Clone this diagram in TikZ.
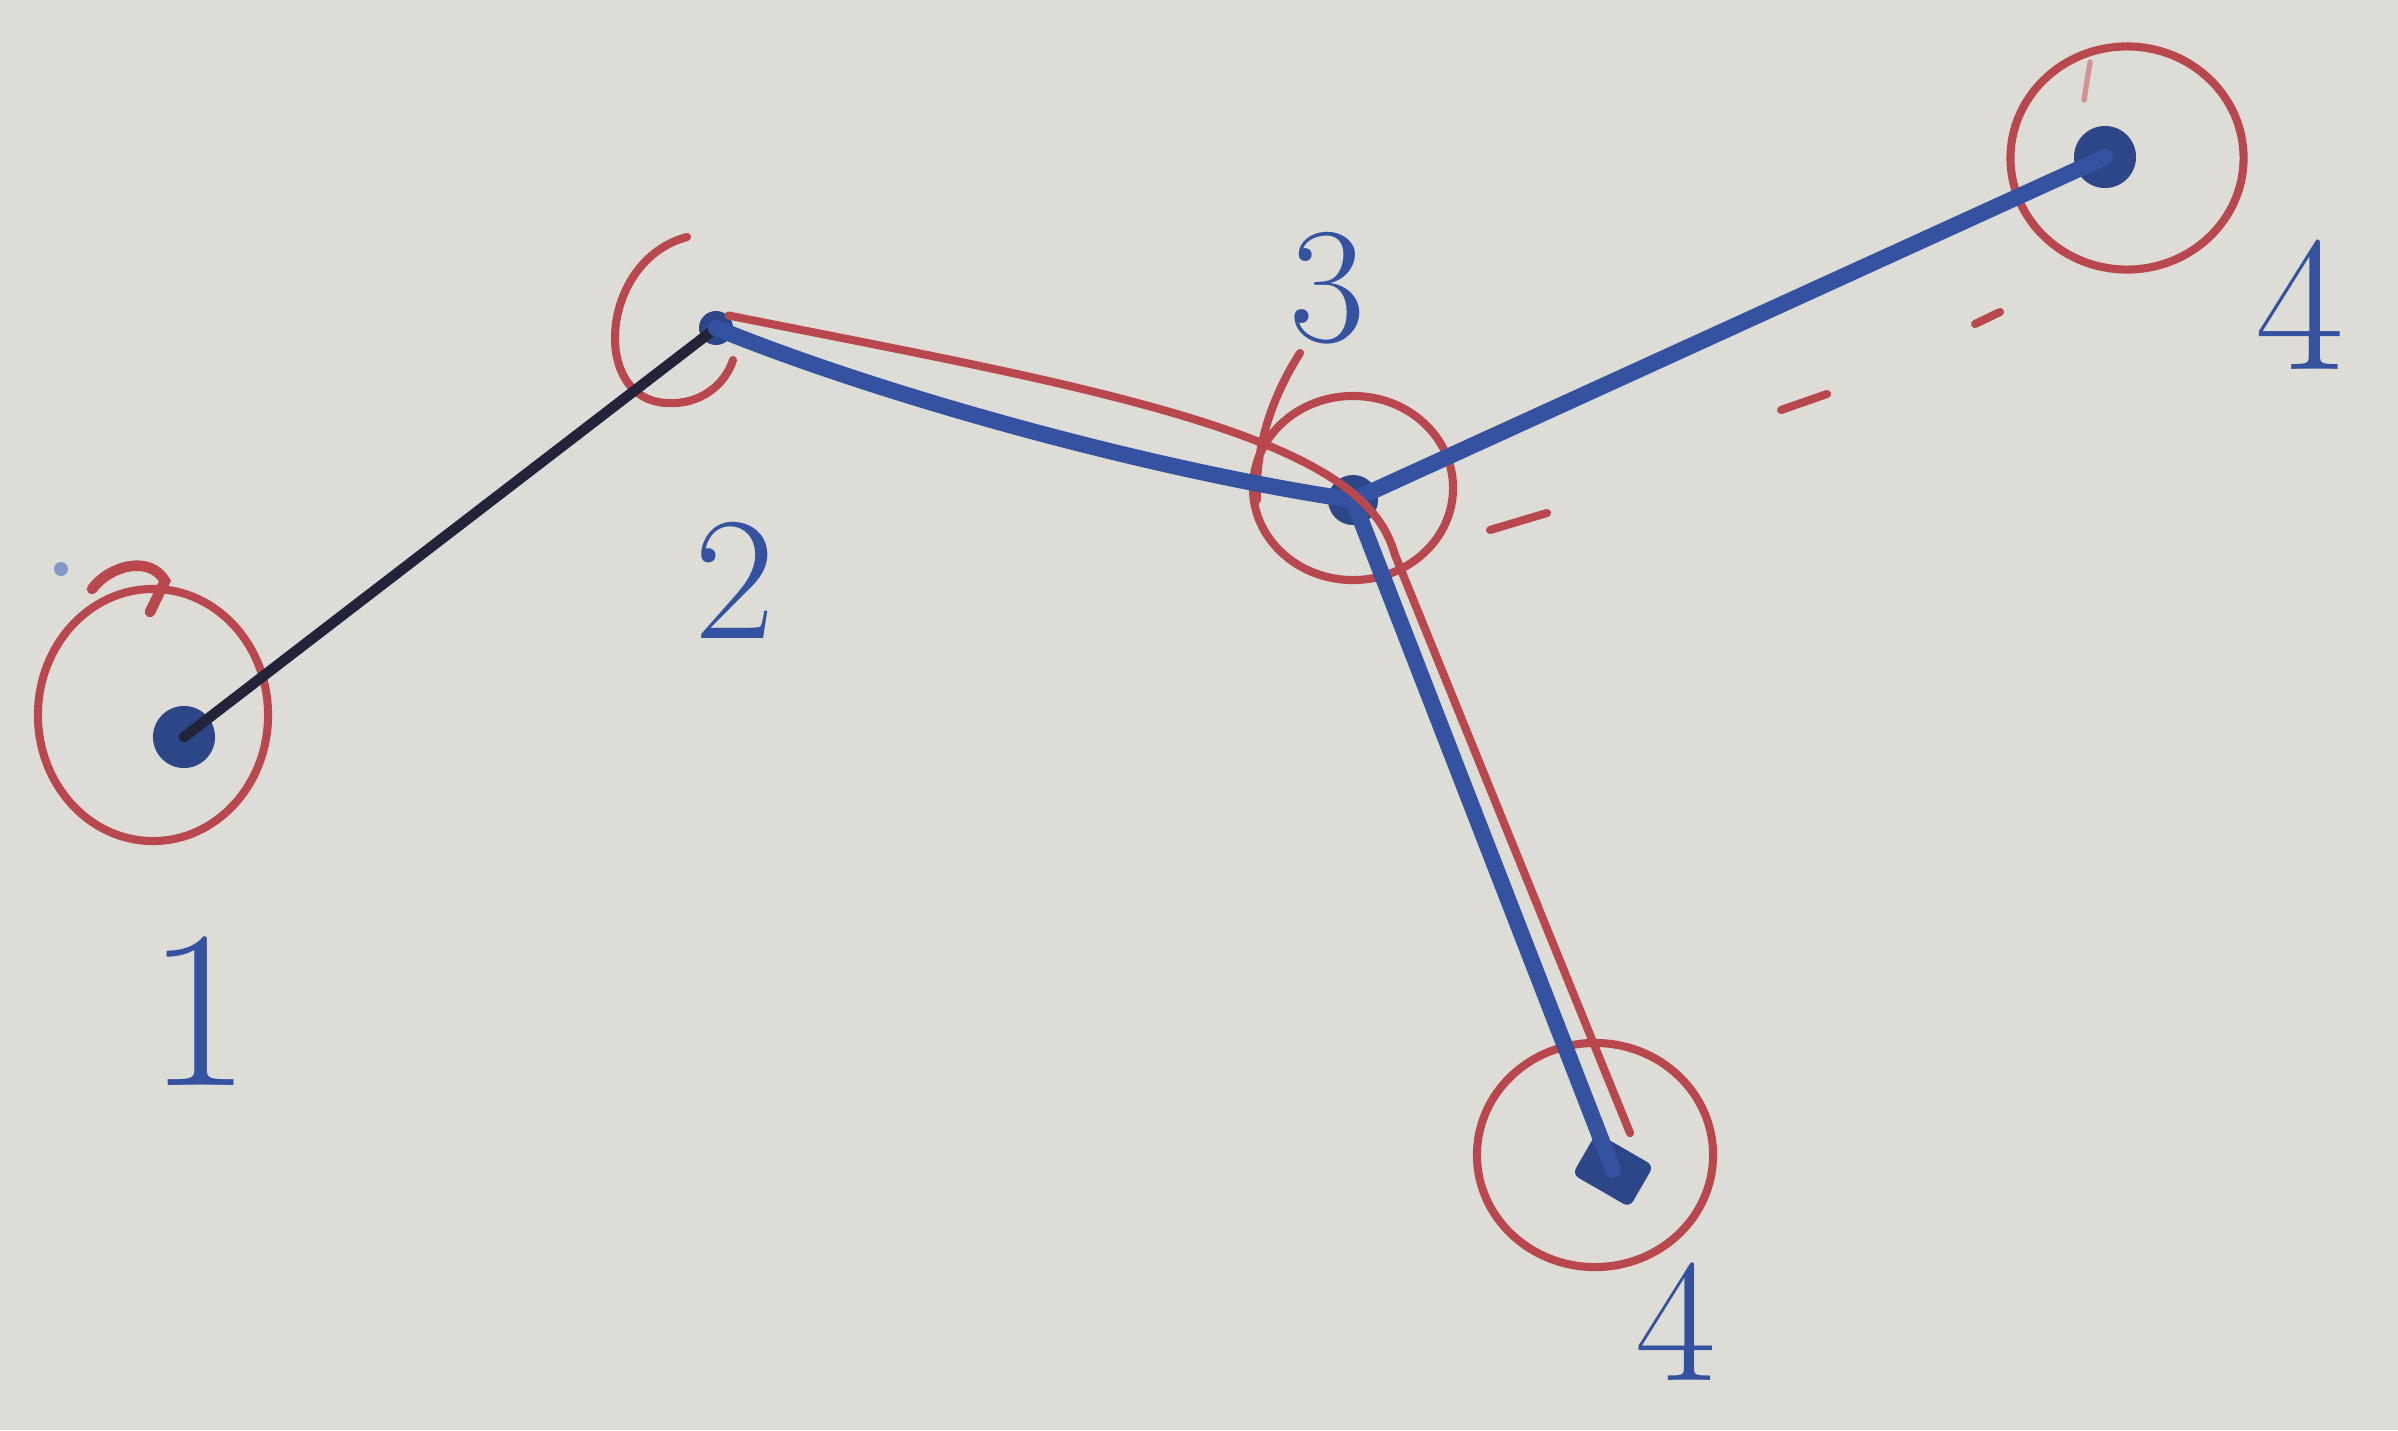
\documentclass[tikz,border=0pt]{standalone}
\usepackage{tikz}
\usetikzlibrary{shapes.geometric}
\definecolor{paper}{RGB}{221,220,215}
\definecolor{bink}{RGB}{52,82,160}
\definecolor{rink}{RGB}{184,72,78}
\definecolor{kink}{RGB}{35,36,58}
\tikzset{
  dot/.style={circle, fill=bink!85!black, inner sep=0pt},
  ring/.style={ellipse, draw=rink, line width=2.3pt, inner sep=0pt},
  tree/.style={bink, line width=4.6pt, line cap=round},
  walk/.style={rink, line width=2.3pt, line cap=round},
  lbl/.style={text=bink, inner sep=0pt, font=\fontsize{50}{50}\selectfont},
}

\begin{document}
\begin{tikzpicture}[x=0.01cm,y=-0.01cm]
  \fill[paper] (0,0) rectangle (2398,1430);
  \useasboundingbox (0,0) rectangle (2398,1430);
  % vertices
  \node[dot, minimum size=0.62cm] (n1) at (184,737) {};
  \node[dot, minimum size=0.34cm] (n2) at (716,328) {};
  \node[dot, minimum size=0.5cm] (n3) at (1353,500) {};
  \node[dot, minimum size=0.62cm] (n5) at (2105,157) {};
  \node[dot, rectangle, rounded corners=2pt, minimum width=0.66cm, minimum height=0.48cm, rotate=-30] (n4) at (1613,1170) {};
  % rings
  \node[ring, minimum width=2.3cm, minimum height=2.52cm] (r1) at (153,715) {};
  \node[ring, minimum width=2.0cm, minimum height=1.84cm] (r3) at (1353,488) {};
  \node[ring, minimum width=2.33cm, minimum height=2.23cm] (r5) at (2127,158) {};
  \node[ring, minimum width=2.36cm, minimum height=2.24cm] (r4) at (1595,1155) {};
  \draw[walk] (687,237) .. controls (600,260) and (590,400) .. (667,403) .. controls (700,405) and (725,385) .. (733,360);
  \draw[walk, line width=3pt] (92,589) .. controls (110,565) and (150,555) .. (165,581) -- (150,612);
  \draw[walk] (1300,353) .. controls (1270,400) and (1255,450) .. (1257,500);
  \draw[walk, rink!60, line width=1.5pt] (2090,62) -- (2084,100);
  \fill[bink!60] (61,569) circle (7);
  % edges
  \draw[kink, line width=3pt, line cap=round] (n1.center) -- (n2.center);
  \draw[tree] (n2.center) .. controls (880,395) and (1150,470) .. (n3.center);
  \draw[tree] (n3.center) -- (n5.center);
  \draw[tree] (n3.center) -- (n4.center);
  \coordinate (w4) at (1630,1133);
  \draw[walk] (n2.north east) .. controls (950,360) and (1180,400) .. (1300,460)
    .. controls (1360,490) and (1385,520) .. (1395,555) -- (w4);
  \foreach \a/\b/\c/\d in {1490/530/1547/513, 1781/410/1827/394, 1975/324/2000/312}
    \draw[walk] (\a,\b) -- (\c,\d);
  % labels
  \node[lbl, font=\fontsize{64}{64}\selectfont] (l1) at (199,1011) {1};
  \node[lbl] (l2) at (735,580) {2};
  \node[lbl, font=\fontsize{47}{47}\selectfont] (l3) at (1327,288) {3};
  \node[lbl, font=\fontsize{55}{55}\selectfont] (l5) at (2300,305) {4};
  \node[lbl] (l4) at (1676,1322) {4};
\end{tikzpicture}
\end{document}
